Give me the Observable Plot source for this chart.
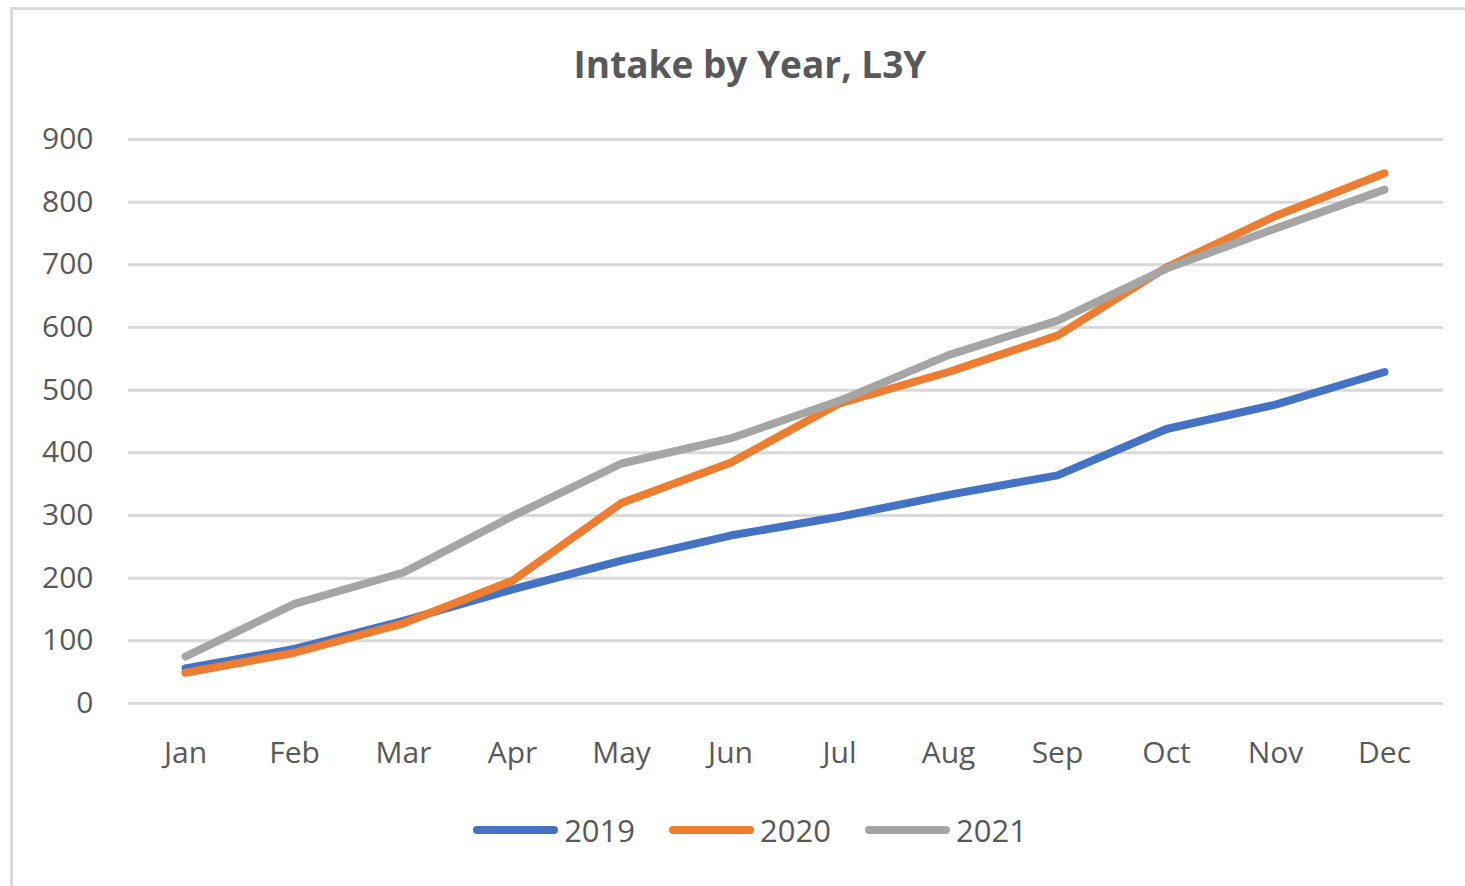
<!DOCTYPE html>
<html>
<head>
<meta charset="utf-8">
<script src="https://cdn.jsdelivr.net/npm/d3@7"></script>
<script src="https://cdn.jsdelivr.net/npm/@observablehq/plot@0.6"></script>
<style>
  html, body { margin: 0; padding: 0; background: #fff; }
  #wrap { position: relative; width: 1465px; height: 886px; overflow: hidden; font-family: "Open Sans", sans-serif; }
  #frame { position: absolute; left: 10px; top: 7px; width: 1470px; height: 890px; border: 3px solid #d9d9d9; box-sizing: border-box; }
  #title { position: absolute; left: 0; width: 1500px; top: 38px; text-align: center; font-size: 37px; font-weight: 700; color: #595959; letter-spacing: 0px; }
  #chart { position: absolute; left: 0; top: 0; }
  #legend { position: absolute; left: 0; width: 1500px; top: 809px; display: flex; justify-content: center; gap: 34px; font-size: 31px; color: #595959; }
  .item { display: flex; align-items: center; gap: 6px; }
  .sw { width: 85px; height: 8px; border-radius: 4px; }
</style>
</head>
<body>
<div id="wrap">
  <div id="frame"></div>
  <div id="title">Intake by Year, L3Y</div>
  <div id="chart"></div>
  <div id="legend"></div>
</div>
<script>
const months = ["Jan","Feb","Mar","Apr","May","Jun","Jul","Aug","Sep","Oct","Nov","Dec"];
const years = ["2019","2020","2021"];
const colors = ["#4472C4","#ED7D31","#A5A5A5"];
const v2019 = [56, 87, 132, 182, 228, 268, 298, 333, 364, 438, 477, 529];
const v2020 = [49, 81, 128, 196, 320, 384, 479, 529, 587, 696, 778, 846];
const v2021 = [75, 159, 209, 299, 383, 423, 483, 556, 611, 694, 758, 820];
const yTicks = [0,100,200,300,400,500,600,700,800,900];

const series = [v2019, v2020, v2021];
const data = [];
years.forEach((yr, k) => months.forEach((m, i) => data.push({month: m, year: yr, value: series[k][i]})));

const W = 1465, H = 790;
const chart = Plot.plot({
  width: W, height: H,
  marginLeft: 128, marginRight: 22, marginTop: 139, marginBottom: H - 703,
  style: { fontFamily: "Open Sans, sans-serif", fontSize: "30px", color: "#595959", background: "transparent" },
  x: { type: "point", domain: months, range: [181, 1388], padding: 0, label: null, tickSize: 0 },
  y: { domain: [0, 900], ticks: yTicks, label: null, tickSize: 0 },
  color: { domain: years, range: colors },
  marks: [
    Plot.gridY(yTicks, { stroke: "#d9d9d9", strokeOpacity: 1, strokeWidth: 3 }),
    Plot.line(data, { x: "month", y: "value", z: "year", stroke: "year", strokeWidth: 8, strokeLinecap: "round", strokeLinejoin: "round" }),
    Plot.axisX({ tickSize: 0, tickPadding: 38, fontSize: 30 }),
    Plot.axisY({ ticks: yTicks, tickSize: 0, tickPadding: 35, fontSize: 30 })
  ]
});
document.getElementById("chart").appendChild(chart);

const legend = document.getElementById("legend");
years.forEach((yr, k) => {
  const it = document.createElement("div");
  it.className = "item";
  const sw = document.createElement("div");
  sw.className = "sw";
  sw.style.background = colors[k];
  const t = document.createElement("span");
  t.textContent = yr;
  it.appendChild(sw); it.appendChild(t);
  legend.appendChild(it);
});
</script>
</body>
</html>
